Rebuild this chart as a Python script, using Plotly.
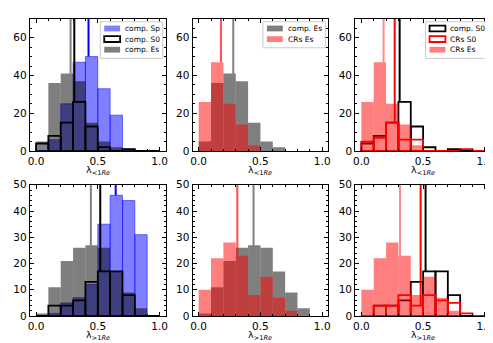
import plotly.graph_objects as go

W, H = 493, 343

# ---------------- data ----------------
BIN_EDGES = [0.0, 0.1, 0.2, 0.3, 0.4, 0.5, 0.6, 0.7, 0.8, 0.9, 1.0]

# lambda < 1 Re  (counts per bin)
IN_COMP_SP = [0, 6, 25, 47, 50, 33, 19, 1, 0, 0]
IN_COMP_S0 = [4, 8, 15, 26, 13, 2, 0, 1, 0, 0]
IN_COMP_ES = [5, 36, 41, 37, 15, 5, 2, 0, 0, 0]
IN_CRS_S0 = [5, 7, 15, 6, 6, 0, 0, 0, 1, 0]
IN_CRS_ES = [26, 47, 25, 14, 3, 0, 0, 0, 0, 0]
# medians (lambda < 1 Re)
IN_MED_COMP_SP = 0.425
IN_MED_COMP_S0 = 0.31
IN_MED_COMP_ES = 0.28
IN_MED_CRS_S0 = 0.27
IN_MED_CRS_ES = 0.18

# lambda > 1 Re
OUT_COMP_SP = [0, 1, 5, 7, 12, 35, 46, 44, 31, 0]
OUT_COMP_S0 = [0, 4, 4, 6, 13, 17, 17, 8, 0, 0]
OUT_COMP_ES = [1, 11, 21, 26, 27, 26, 17, 9, 3, 0]
OUT_CRS_S0 = [0, 4, 4, 8, 4, 8, 6, 5, 1, 0]
OUT_CRS_ES = [10, 22, 28, 23, 8, 15, 7, 2, 0, 0]
# medians (lambda > 1 Re)
OUT_MED_COMP_SP = 0.645
OUT_MED_COMP_S0 = 0.52
OUT_MED_COMP_ES = 0.444
OUT_MED_CRS_S0 = 0.48
OUT_MED_CRS_ES = 0.313

X_TITLES = ["λ<sub>&lt;1<i>Re</i></sub>", "λ<sub>&gt;1<i>Re</i></sub>"]
Y_MAX = [70, 50]
Y_DTICK = [20, 10]
Y_MINOR = [5, 2]

# ---------------- styles ----------------
STY = {
    "sp": dict(fill="rgba(0,0,255,0.5)", edge="rgba(0,0,255,0.5)", ew=1, line="blue"),
    "s0": dict(fill="rgba(0,0,0,0)", edge="black", ew=1.8, line="black"),
    "es": dict(fill="rgba(0,0,0,0.5)", edge="rgba(0,0,0,0)", ew=0, line="rgba(0,0,0,0.5)"),
    "crs0": dict(fill="rgba(255,255,255,0)", edge="red", ew=1.8, line="red"),
    "cres": dict(fill="rgba(255,0,0,0.5)", edge="rgba(0,0,0,0)", ew=0, line="rgba(255,0,0,0.5)"),
}

# panel pixel boxes: (left, right) columns, (top, bottom) rows
COLS = [(20, 157), (184, 321), (348, 485)]
ROWS = [(5, 142), (177, 313)]

fig = go.Figure()

centers = [(BIN_EDGES[i] + BIN_EDGES[i + 1]) / 2 for i in range(len(BIN_EDGES) - 1)]
widths = [BIN_EDGES[i + 1] - BIN_EDGES[i] for i in range(len(BIN_EDGES) - 1)]


def bin_height(vals, m):
    for i in range(len(vals)):
        if BIN_EDGES[i] <= m < BIN_EDGES[i + 1]:
            return vals[i]
    return 0


def add_hist(k, vals, sty):
    s = STY[sty]
    fig.add_trace(go.Bar(x=centers, y=vals, width=widths,
                         marker=dict(color=s["fill"], line=dict(color=s["edge"], width=s["ew"])),
                         xaxis=f"x{k}", yaxis=f"y{k}", showlegend=False, hoverinfo="skip"))
    if s["ew"] > 0:
        # zero-height bins still draw their outline along the baseline
        xs, ys = [], []
        for i, v in enumerate(vals):
            if v == 0:
                xs += [BIN_EDGES[i], BIN_EDGES[i + 1], None]
                ys += [0, 0, None]
        if xs:
            fig.add_trace(go.Scatter(x=xs, y=ys, mode="lines",
                                     line=dict(color=s["edge"], width=s["ew"] + 0.5),
                                     xaxis=f"x{k}", yaxis=f"y{k}", showlegend=False, hoverinfo="skip"))


def add_median(k, vals, m, color, ymax):
    fig.add_trace(go.Scatter(x=[m, m], y=[bin_height(vals, m), ymax], mode="lines",
                             line=dict(color=color, width=2),
                             xaxis=f"x{k}", yaxis=f"y{k}", showlegend=False, hoverinfo="skip"))


rows_data = [
    (IN_COMP_SP, IN_COMP_S0, IN_COMP_ES, IN_CRS_S0, IN_CRS_ES,
     IN_MED_COMP_SP, IN_MED_COMP_S0, IN_MED_COMP_ES, IN_MED_CRS_S0, IN_MED_CRS_ES),
    (OUT_COMP_SP, OUT_COMP_S0, OUT_COMP_ES, OUT_CRS_S0, OUT_CRS_ES,
     OUT_MED_COMP_SP, OUT_MED_COMP_S0, OUT_MED_COMP_ES, OUT_MED_CRS_S0, OUT_MED_CRS_ES),
]

for r, (sp, s0, es, cs0, ces, msp, ms0, mes, mcs0, mces) in enumerate(rows_data):
    ymax = Y_MAX[r]
    k1, k2, k3 = 3 * r + 1, 3 * r + 2, 3 * r + 3
    # panel 1: Sp, S0, Es
    add_hist(k1, sp, "sp")
    add_hist(k1, s0, "s0")
    add_hist(k1, es, "es")
    add_median(k1, es, mes, STY["es"]["line"], ymax)
    add_median(k1, s0, ms0, STY["s0"]["line"], ymax)
    add_median(k1, sp, msp, STY["sp"]["line"], ymax)
    # panel 2: Es vs CRs Es
    add_hist(k2, es, "es")
    add_hist(k2, ces, "cres")
    add_median(k2, ces, mces, "rgba(255,0,0,0.7)", ymax)
    add_median(k2, es, mes, STY["es"]["line"], ymax)
    # panel 3: S0 vs CRs S0, CRs Es
    add_hist(k3, s0, "s0")
    add_hist(k3, cs0, "crs0")
    add_hist(k3, ces, "cres")
    add_median(k3, ces, mces, "rgba(255,0,0,0.45)", ymax)
    add_median(k3, cs0, mcs0, STY["crs0"]["line"], ymax)
    add_median(k3, s0, ms0, STY["s0"]["line"], ymax)

# ---------------- axes ----------------
common = dict(showline=True, linecolor="black", linewidth=1, mirror="allticks",
              ticks="inside", ticklen=4, tickwidth=1, tickcolor="black",
              showgrid=False, zeroline=False,
              tickfont=dict(size=10.5, color="black", family="DejaVu Sans"))

layout = {}
annotations = []
shapes = []
for r in range(2):
    for c in range(3):
        k = 3 * r + c + 1
        (l, rr), (t, b) = COLS[c], ROWS[r]
        xd = [l / W, rr / W]
        yd = [1 - b / H, 1 - t / H]
        sfx = "" if k == 1 else str(k)
        layout[f"xaxis{sfx}"] = dict(common, domain=xd, anchor=f"y{k}", range=[-0.05, 1.05],
                                     tickmode="linear", tick0=0, dtick=0.5, tickformat=".1f",
                                     minor=dict(ticks="inside", ticklen=2, tickwidth=1, tickcolor="black",
                                                tickmode="linear", tick0=0, dtick=0.1, showgrid=False))
        layout[f"yaxis{sfx}"] = dict(common, domain=yd, anchor=f"x{k}", range=[0, Y_MAX[r]],
                                     tickmode="linear", tick0=0, dtick=Y_DTICK[r],
                                     minor=dict(ticks="inside", ticklen=2, tickwidth=1, tickcolor="black",
                                                tickmode="linear", tick0=0, dtick=Y_MINOR[r], showgrid=False))
        annotations.append(dict(text=X_TITLES[r], x=(l + rr) / 2 / W, y=1 - (b + 20) / H,
                                xref="paper", yref="paper", showarrow=False, xanchor="center",
                                yanchor="middle", font=dict(size=9.5, color="black", family="DejaVu Sans")))

# ---------------- legends (top row) ----------------
LEGENDS = [
    [("comp. Sp", "sp"), ("comp. S0", "s0"), ("comp. Es", "es")],
    [("comp. Es", "es"), ("CRs Es", "cres")],
    [("comp. S0", "s0"), ("CRs S0", "crs0"), ("CRs Es", "cres")],
]


def px2x(p):
    return p / W


def px2y(p):
    return 1 - p / H


for c, entries in enumerate(LEGENDS):
    l, rr = COLS[c]
    t = ROWS[0][0]
    bx1 = rr - 3
    bx0 = bx1 - 63
    by0 = t + 3
    by1 = by0 + 4 + 11 * len(entries) - 1 + 2
    shapes.append(dict(type="rect", xref="paper", yref="paper",
                       x0=px2x(bx0), x1=px2x(bx1), y0=px2y(by0), y1=px2y(by1),
                       fillcolor="rgba(255,255,255,0.8)", line=dict(color="#cccccc", width=1)))
    for i, (lab, sty) in enumerate(entries):
        cy = by0 + 7 + 11 * i
        s = STY[sty]
        shapes.append(dict(type="rect", xref="paper", yref="paper",
                           x0=px2x(bx0 + 4), x1=px2x(bx0 + 20), y0=px2y(cy - 3), y1=px2y(cy + 3),
                           fillcolor=s["fill"],
                           line=dict(color=s["edge"] if s["ew"] > 1 else "rgba(0,0,0,0)",
                                     width=s["ew"] if s["ew"] > 1 else 0)))
        annotations.append(dict(text=lab, x=px2x(bx0 + 23), y=px2y(cy), xref="paper", yref="paper",
                                showarrow=False, xanchor="left", yanchor="middle",
                                font=dict(size=7.5, color="black", family="DejaVu Sans")))

fig.update_layout(**layout)
fig.update_layout(width=W, height=H, autosize=False, barmode="overlay",
                  margin=dict(l=0, r=0, t=0, b=0), paper_bgcolor="white", plot_bgcolor="white",
                  font=dict(family="DejaVu Sans", color="black"),
                  showlegend=False, annotations=annotations, shapes=shapes)

fig.write_html("out.html")
